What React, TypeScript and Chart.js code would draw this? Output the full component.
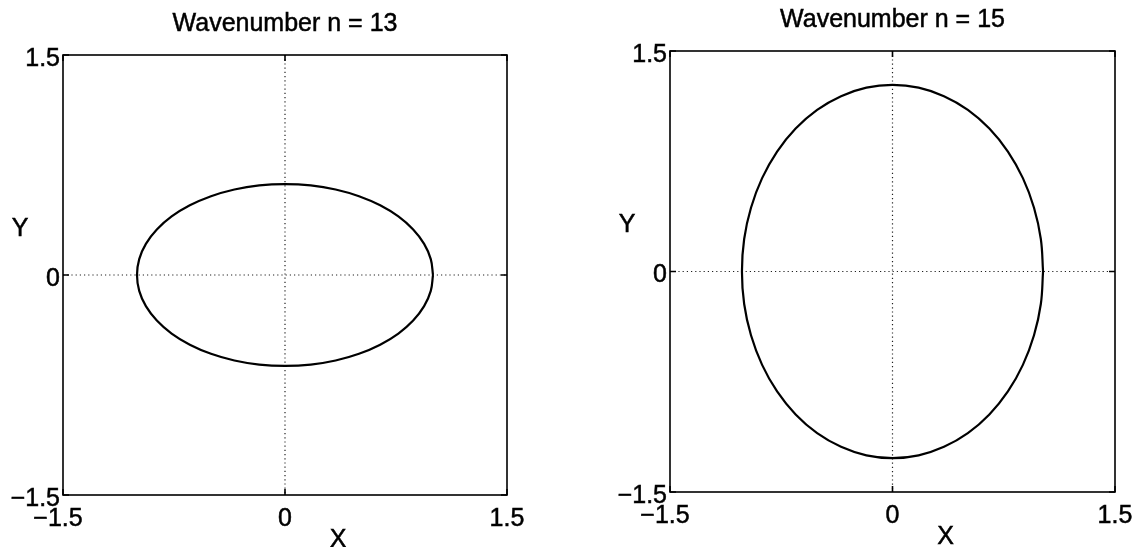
import React, { useEffect, useRef } from "react";
import { Chart, registerables } from "chart.js";

Chart.register(...registerables);

// Axis ticks shared by both panels
const AXIS_TICKS = [-1.5, 0, 1.5];
const AXIS_TICK_LABELS = ["−1.5", "0", "1.5"];

const TITLE_N13 = "Wavenumber n = 13";
const TITLE_N15 = "Wavenumber n = 15";
const X_LABEL = "X";
const Y_LABEL = "Y";

// Closed curve for wavenumber n = 13 (wide, flat)
const n13X = [
  1.0, 0.985, 0.94, 0.866, 0.766, 0.643, 0.5, 0.342, 0.174, 0.0,
  -0.174, -0.342, -0.5, -0.643, -0.766, -0.866, -0.94, -0.985, -1.0,
  -0.985, -0.94, -0.866, -0.766, -0.643, -0.5, -0.342, -0.174, 0.0,
  0.174, 0.342, 0.5, 0.643, 0.766, 0.866, 0.94, 0.985, 1.0,
];
const n13Y = [
  0.0, 0.108, 0.212, 0.31, 0.399, 0.475, 0.537, 0.583, 0.611, 0.62,
  0.611, 0.583, 0.537, 0.475, 0.399, 0.31, 0.212, 0.108, 0.0,
  -0.108, -0.212, -0.31, -0.399, -0.475, -0.537, -0.583, -0.611, -0.62,
  -0.611, -0.583, -0.537, -0.475, -0.399, -0.31, -0.212, -0.108, 0.0,
];

// Closed curve for wavenumber n = 15 (tall)
const n15X = [
  1.015, 1.0, 0.954, 0.879, 0.778, 0.653, 0.508, 0.347, 0.176, 0.0,
  -0.176, -0.347, -0.508, -0.653, -0.778, -0.879, -0.954, -1.0, -1.015,
  -1.0, -0.954, -0.879, -0.778, -0.653, -0.508, -0.347, -0.176, 0.0,
  0.176, 0.347, 0.508, 0.653, 0.778, 0.879, 0.954, 1.0, 1.015,
];
const n15Y = [
  0.0, 0.221, 0.434, 0.635, 0.816, 0.973, 1.1, 1.193, 1.251, 1.27,
  1.251, 1.193, 1.1, 0.973, 0.816, 0.635, 0.434, 0.221, 0.0,
  -0.221, -0.434, -0.635, -0.816, -0.973, -1.1, -1.193, -1.251, -1.27,
  -1.251, -1.193, -1.1, -0.973, -0.816, -0.635, -0.434, -0.221, 0.0,
];

const FONT_FAMILY = '"Liberation Sans", Arial, Helvetica, sans-serif';

function drawText(
  ctx: CanvasRenderingContext2D,
  text: string,
  x: number,
  y: number,
  align: CanvasTextAlign,
  size: number
) {
  ctx.save();
  ctx.font = `${size}px ${FONT_FAMILY}`;
  ctx.fillStyle = "#000";
  ctx.strokeStyle = "#000";
  ctx.lineWidth = 0.5;
  ctx.textBaseline = "middle";
  ctx.textAlign = align;
  ctx.fillText(text, x, y);
  ctx.strokeText(text, x, y);
  ctx.restore();
}

// Axes decoration in a boxed, inward-tick style
const boxedAxesPlugin = {
  id: "boxedAxes",
  beforeDatasetsDraw(chart: any) {
    const { ctx, chartArea, scales } = chart;
    const x0 = scales.x.getPixelForValue(0);
    const y0 = scales.y.getPixelForValue(0);
    ctx.save();
    ctx.strokeStyle = "#222";
    ctx.lineWidth = 1.2;
    ctx.setLineDash([1.2, 3]);
    ctx.beginPath();
    ctx.moveTo(x0, chartArea.top);
    ctx.lineTo(x0, chartArea.bottom);
    ctx.moveTo(chartArea.left, y0);
    ctx.lineTo(chartArea.right, y0);
    ctx.stroke();
    ctx.restore();
  },
  afterDraw(chart: any) {
    const { ctx, chartArea, scales } = chart;
    const opts = chart.options.plugins.boxedAxes;
    const { left, right, top, bottom } = chartArea;
    ctx.save();
    ctx.strokeStyle = "#000";
    ctx.lineWidth = 1.6;
    ctx.setLineDash([]);
    ctx.strokeRect(left, top, right - left, bottom - top);
    const tickLen = 6;
    ctx.beginPath();
    AXIS_TICKS.forEach((v) => {
      const px = scales.x.getPixelForValue(v);
      const py = scales.y.getPixelForValue(v);
      ctx.moveTo(px, bottom);
      ctx.lineTo(px, bottom - tickLen);
      ctx.moveTo(px, top);
      ctx.lineTo(px, top + tickLen);
      ctx.moveTo(left, py);
      ctx.lineTo(left + tickLen, py);
      ctx.moveTo(right, py);
      ctx.lineTo(right - tickLen, py);
    });
    ctx.stroke();
    ctx.restore();

    const fs = 25;
    AXIS_TICKS.forEach((v, i) => {
      const label = AXIS_TICK_LABELS[i];
      const py = scales.y.getPixelForValue(v) + 4;
      drawText(ctx, label, left - 3, py, "right", fs);
      const px = scales.x.getPixelForValue(v) - (v < 0 ? 5 : 0);
      drawText(ctx, label, px, bottom + 24, "center", fs);
    });

    const cx = (left + right) / 2;
    const cy = (top + bottom) / 2;
    drawText(ctx, opts.title, cx, top - 31, "center", 25);
    drawText(ctx, X_LABEL, cx + 53, bottom + 45, "center", 25);
    drawText(ctx, Y_LABEL, left - 43, cy - 46, "center", 25);
  },
};

type PanelProps = {
  title: string;
  xs: number[];
  ys: number[];
  left: number;
  width: number;
  padding: { left: number; right: number; top: number; bottom: number };
};

function Panel({ title, xs, ys, left, width, padding }: PanelProps) {
  const ref = useRef<HTMLCanvasElement | null>(null);

  useEffect(() => {
    if (!ref.current) return;
    const chart = new Chart(ref.current, {
      type: "scatter",
      data: {
        datasets: [
          {
            data: xs.map((x, i) => ({ x, y: ys[i] })),
            showLine: true,
            pointRadius: 0,
            borderColor: "#000",
            borderWidth: 2.2,
            tension: 0.4,
            fill: false,
          },
        ],
      },
      options: {
        animation: false,
        responsive: false,
        devicePixelRatio: 1,
        layout: { padding },
        plugins: {
          legend: { display: false },
          tooltip: { enabled: false },
          title: { display: false },
          boxedAxes: { title },
        } as any,
        scales: {
          x: {
            type: "linear",
            min: -1.5,
            max: 1.5,
            afterBuildTicks: (s: any) => {
              s.ticks = AXIS_TICKS.map((value) => ({ value }));
            },
            afterFit: (s: any) => {
              s.height = 0;
            },
            ticks: { display: false },
            grid: { display: false, drawTicks: false },
            border: { display: false },
          },
          y: {
            type: "linear",
            min: -1.5,
            max: 1.5,
            afterBuildTicks: (s: any) => {
              s.ticks = AXIS_TICKS.map((value) => ({ value }));
            },
            afterFit: (s: any) => {
              s.width = 0;
            },
            ticks: { display: false },
            grid: { display: false, drawTicks: false },
            border: { display: false },
          },
        },
      },
      plugins: [boxedAxesPlugin],
    });
    return () => chart.destroy();
  }, [title, xs, ys, padding]);

  return (
    <canvas
      ref={ref}
      width={width}
      height={547}
      style={{ position: "absolute", left, top: 0, width, height: 547 }}
    />
  );
}

const LEFT_PADDING = { left: 63, right: 61, top: 55, bottom: 52 };
const RIGHT_PADDING = { left: 102, right: 21, top: 51, bottom: 55 };

export default function App() {
  return (
    <div
      style={{
        position: "absolute",
        left: 0,
        top: 0,
        width: 1136,
        height: 547,
        background: "#fff",
        overflow: "hidden",
      }}
    >
      <Panel title={TITLE_N13} xs={n13X} ys={n13Y} left={0} width={568} padding={LEFT_PADDING} />
      <Panel title={TITLE_N15} xs={n15X} ys={n15Y} left={568} width={568} padding={RIGHT_PADDING} />
    </div>
  );
}
